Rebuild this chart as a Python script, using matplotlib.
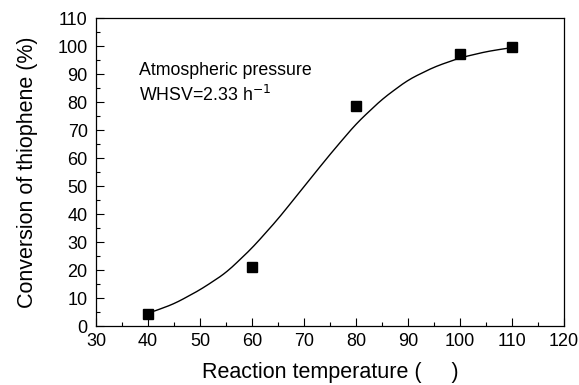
import numpy as np
import matplotlib.pyplot as plt

plt.rcParams['font.family'] = ['Liberation Sans', 'DejaVu Sans']

# measured points
temp = [40, 60, 80, 100, 110]
conv = [4.2, 21.1, 78.5, 97.0, 99.8]

# fitted curve
fit_t = [40, 45, 50, 55, 60, 65, 70, 75, 80, 85, 90, 95, 100, 105, 110]
fit_c = [4.5, 7.9, 12.9, 19.0, 27.8, 38.2, 49.8, 61.3, 72.2, 81.0, 87.9, 92.5, 95.8, 98.0, 99.5]

xticks = np.arange(30, 121, 10)
yticks = np.arange(0, 111, 10)

fig = plt.figure(figsize=(5.79, 3.85), dpi=100)
ax = fig.add_axes([0.1658, 0.1532, 0.8082, 0.7998])

# smooth the fitted line a bit for display
ts = np.linspace(fit_t[0], fit_t[-1], 300)
cs = np.interp(ts, fit_t, fit_c)
k = np.ones(15) / 15
cs_pad = np.concatenate([np.full(7, cs[0]), cs, np.full(7, cs[-1])])
cs_sm = np.convolve(cs_pad, k, mode='valid')
ax.plot(ts, cs_sm, color='black', lw=1.0)
ax.plot(temp, conv, 's', color='black', ms=7.5)

ax.set_xlim(30, 120)
ax.set_ylim(0, 110)
ax.set_xticks(xticks)
ax.set_yticks(yticks)
ax.set_xticks(np.arange(35, 120, 10), minor=True)
ax.set_yticks(np.arange(5, 110, 10), minor=True)
ax.tick_params(which='both', direction='in', top=False, right=False, labelsize=13)
ax.tick_params(axis='y', pad=6)
ax.tick_params(axis='x', pad=5)
ax.tick_params(which='major', length=6, width=0.8)
ax.tick_params(which='minor', length=3, width=0.8)
for s in ax.spines.values():
    s.set_linewidth(0.9)

ax.set_xlabel('Reaction temperature (     )', fontsize=15.5, labelpad=9)
ax.set_ylabel('Conversion of thiophene (%)', fontsize=15.5, labelpad=14)

ax.text(38.3, 91.4, 'Atmospheric pressure', fontsize=12.8, va='center')
ax.text(38.3, 82.5, 'WHSV=2.33 h$^{-1}$', fontsize=12.8, va='center')

fig.savefig('out.png', dpi=100)
